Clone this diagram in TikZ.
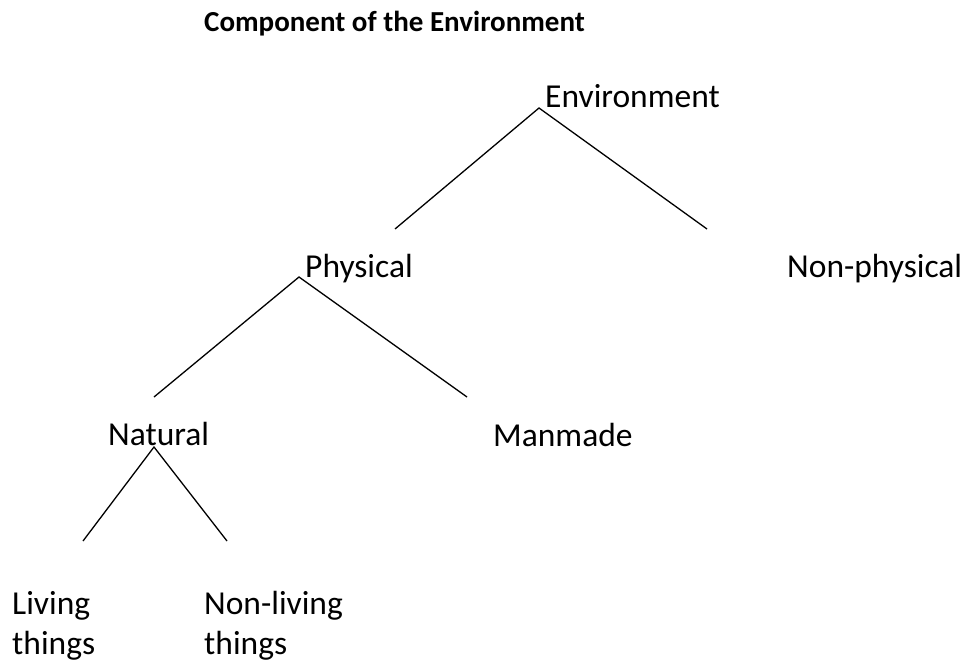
\documentclass[tikz,border=0pt]{standalone}
\usepackage{fontspec}
\setmainfont{Carlito}
\begin{document}
\begin{tikzpicture}[x=1pt,y=-1pt,
  lbl/.style={anchor=base west,inner sep=0pt,align=left,font=\fontsize{33.5}{39.5}\selectfont},
  ttl/.style={anchor=base west,inner sep=0pt,font=\fontsize{29}{35}\selectfont\bfseries},
  edge/.style={draw=black,line width=1.3pt}]
\useasboundingbox (0,0) rectangle (968,666);
\node[ttl] (title) at (204,32) {Component of the Environment};
\node[lbl] (env) at (545,107) {Environment};
\node[lbl] (phys) at (305,277) {Physical};
\node[lbl] (nonphys) at (787,277) {Non-physical};
\node[lbl] (nat) at (108,445) {Natural};
\node[lbl] (man) at (493,446) {Manmade};
\node[lbl] (liv) at (12,654) {Living\\things};
\node[lbl] (nonliv) at (204,654) {Non-living\\things};
% connector points
\coordinate (envA) at (539,108);
\coordinate (physT) at (395,229);
\coordinate (nonphysT) at (707,229);
\coordinate (physA) at (299,277);
\coordinate (natT) at (154,397);
\coordinate (manT) at (467,397);
\coordinate (natA) at (154,447);
\coordinate (livT) at (83,541);
\coordinate (nonlivT) at (227,541);
\draw[edge] (physT) -- (envA) -- (nonphysT);
\draw[edge] (natT) -- (physA) -- (manT);
\draw[edge] (livT) -- (natA) -- (nonlivT);
\end{tikzpicture}
\end{document}
